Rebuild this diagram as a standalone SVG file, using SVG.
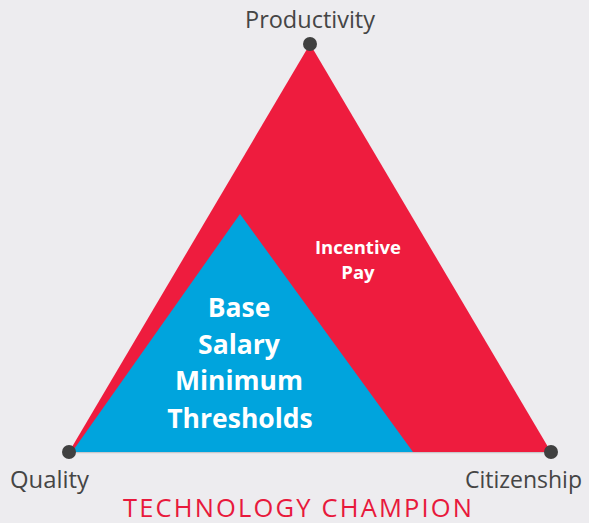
<svg xmlns="http://www.w3.org/2000/svg" width="589" height="523" viewBox="0 0 589 523">
<style>
.lbl{font-family:"Open Sans","Liberation Sans",sans-serif;font-size:23px;fill:#454545;}
.w{font-family:"Open Sans","Liberation Sans",sans-serif;font-weight:bold;fill:#ffffff;text-anchor:middle;}
.dot{fill:#404040;}
</style>
<rect width="589" height="523" fill="#EDECEF"/>
<g id="connectors">
<line x1="69" y1="452.5" x2="551" y2="452.5" stroke="#C9C8CC" stroke-width="1.5"/>
</g>
<g id="incentive">
<polygon points="310,44 69,452 551,452" fill="#EE1C3E"/>
<text class="w" x="358" y="254" font-size="18.5">Incentive</text>
<text class="w" x="358" y="279" font-size="18.5">Pay</text>
</g>
<g id="base">
<polygon points="240,214 72,452 413,452" fill="#00A4DD"/>
<text class="w" x="239" y="317" font-size="26.5">Base</text>
<text class="w" x="239" y="354" font-size="26.5">Salary</text>
<text class="w" x="239" y="390" font-size="26.5">Minimum</text>
<text class="w" x="240" y="428" font-size="26.5">Thresholds</text>
</g>
<g id="productivity">
<circle class="dot" cx="310" cy="44" r="7"/>
<text class="lbl" x="245" y="28" textLength="130" lengthAdjust="spacingAndGlyphs">Productivity</text>
</g>
<g id="quality">
<circle class="dot" cx="69" cy="452" r="7"/>
<text class="lbl" x="10" y="488" textLength="79" lengthAdjust="spacingAndGlyphs">Quality</text>
</g>
<g id="citizenship">
<circle class="dot" cx="551" cy="452" r="7"/>
<text class="lbl" x="582" y="488" font-size="21.5" text-anchor="end">Citizenship</text>
</g>
<g id="title">
<text x="123" y="517" font-family="Open Sans, Liberation Sans, sans-serif" font-size="25.5" fill="#E8193C" textLength="349" lengthAdjust="spacing">TECHNOLOGY CHAMPION</text>
</g>
</svg>
